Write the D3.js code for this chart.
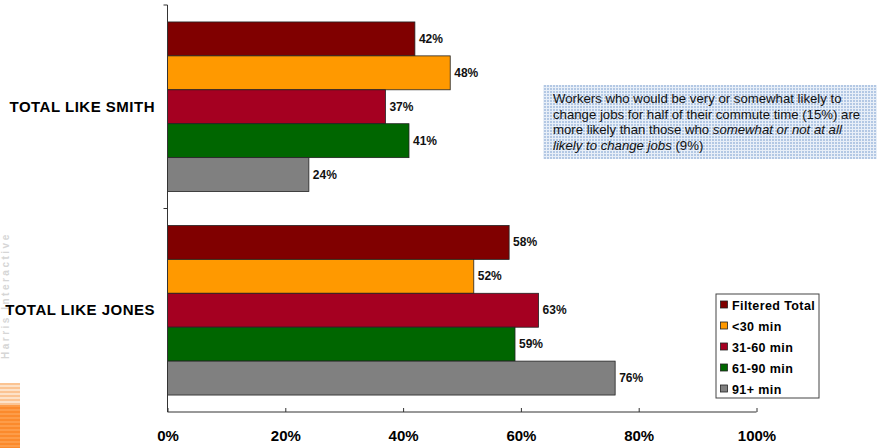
<!DOCTYPE html>
<html>
<head>
<meta charset="utf-8">
<script src="https://cdn.jsdelivr.net/npm/d3@7"></script>
<style>
  html, body { margin: 0; padding: 0; background: #fff; }
  svg { display: block; font-family: Arial, "Liberation Sans", sans-serif; }
</style>
</head>
<body>
<svg id="chart" width="877" height="448"></svg>
<script>
// Survey groups and commute-time segments
const categories = ["TOTAL LIKE SMITH", "TOTAL LIKE JONES"];
const seriesNames = ["Filtered Total", "<30 min", "31-60 min", "61-90 min", "91+ min"];
const seriesColors = ["#800000", "#FF9900", "#A50021", "#006600", "#808080"];
const smithValues = [42, 48, 37, 41, 24];
const jonesValues = [58, 52, 63, 59, 76];
const xTicks = [0, 20, 40, 60, 80, 100];
const noteLines = [
  [{t: "Workers who would be very or somewhat likely to", i: false}],
  [{t: "change jobs for half of their commute time (15%) are", i: false}],
  [{t: "more likely than those who ", i: false}, {t: "somewhat or not at all", i: true}],
  [{t: "likely to change jobs", i: true}, {t: " (9%)", i: false}]
];

const valuesByCategory = [smithValues, jonesValues];
const rows = [];
categories.forEach((c, ci) => {
  seriesNames.forEach((s, si) => rows.push({cat: c, series: s, si, value: valuesByCategory[ci][si]}));
});

const svg = d3.select("#chart");
const plot = {left: 167.5, right: 756.5, top: 5, bottom: 412};

const x = d3.scaleLinear().domain([0, 100]).range([plot.left, plot.right]);
const y = d3.scaleBand().domain(categories).range([plot.top, plot.bottom]).paddingInner(0).paddingOuter(0);
const inner = d3.scaleBand().domain(seriesNames).range([0, y.bandwidth()]).paddingOuter(0.5).paddingInner(0);

// Watermark on the left edge
svg.append("text")
  .attr("transform", "translate(9,359) rotate(-90)")
  .attr("font-size", 10).attr("font-weight", "bold")
  .attr("fill", "#d6d6d6").attr("letter-spacing", 2.5)
  .text("Harris Interactive");
const stripes = svg.append("g");
d3.range(383, 448, 2).forEach(yy => {
  stripes.append("rect").attr("x", 0).attr("y", yy).attr("width", 20).attr("height", 2)
    .attr("fill", yy < 405 ? (yy % 4 === 1 ? "#fde2c8" : "#fbc493") : (yy % 4 === 1 ? "#fd9c48" : "#fb8a2c"));
});

// Bars
svg.append("g").selectAll("rect").data(rows).join("rect")
  .attr("x", x(0))
  .attr("y", d => y(d.cat) + inner(d.series))
  .attr("width", d => x(d.value) - x(0))
  .attr("height", inner.bandwidth())
  .attr("fill", d => seriesColors[d.si])
  .attr("stroke", "#222").attr("stroke-width", 0.8);

// Value labels
svg.append("g").selectAll("text").data(rows).join("text")
  .attr("x", d => x(d.value) + 4)
  .attr("y", d => y(d.cat) + inner(d.series) + inner.bandwidth() / 2 + 4)
  .attr("font-size", 12).attr("font-weight", "bold").attr("fill", "#111")
  .text(d => d.value + "%");

// X axis
const xAxis = svg.append("g").attr("transform", `translate(0,${plot.bottom})`)
  .call(d3.axisBottom(x).tickValues(xTicks).tickSize(-4).tickFormat(d => d + "%").tickPadding(18));
xAxis.select(".domain").attr("stroke", "#333").attr("d", `M${plot.left},0H${plot.right}`);
xAxis.selectAll(".tick line").attr("stroke", "#333");
xAxis.selectAll(".tick text").attr("font-size", 15).attr("font-weight", "bold").attr("fill", "#000")
  .attr("font-family", "Arial, 'Liberation Sans', sans-serif");

// Y axis with boundary ticks between categories
const yAxis = svg.append("g").attr("transform", `translate(${plot.left},0)`);
yAxis.append("line").attr("x1", 0).attr("x2", 0).attr("y1", plot.top).attr("y2", plot.bottom).attr("stroke", "#333");
[plot.top, y(categories[1])].forEach(t => {
  yAxis.append("line").attr("x1", -4).attr("x2", 0).attr("y1", t).attr("y2", t).attr("stroke", "#333");
});
svg.append("g").selectAll("text").data(categories).join("text")
  .attr("x", 155).attr("y", d => y(d) + y.bandwidth() / 2 + 5)
  .attr("text-anchor", "end").attr("font-size", 15).attr("font-weight", "bold").attr("fill", "#000")
  .attr("letter-spacing", 0.5)
  .text(d => d);

// Note box with a woven blue fill
const defs = svg.append("defs");
const pat = defs.append("pattern").attr("id", "weave").attr("patternUnits", "userSpaceOnUse")
  .attr("width", 3).attr("height", 3);
pat.append("rect").attr("width", 3).attr("height", 3).attr("fill", "#b3c8e4");
pat.append("rect").attr("x", 0).attr("y", 0).attr("width", 3).attr("height", 1).attr("fill", "#e8eff8");
pat.append("rect").attr("x", 0).attr("y", 0).attr("width", 1).attr("height", 3).attr("fill", "#e8eff8");
svg.append("rect").attr("x", 543).attr("y", 85).attr("width", 334).attr("height", 74).attr("fill", "url(#weave)");
const note = svg.append("text").attr("font-size", 13.2).attr("fill", "#111");
noteLines.forEach((parts, li) => {
  const line = note.append("tspan").attr("x", 553).attr("y", 103 + li * 15.5);
  parts.forEach((p, pi) => {
    const el = pi === 0 ? line : note.append("tspan");
    el.text(p.t).attr("font-style", p.i ? "italic" : "normal");
  });
});

// Legend
const lg = svg.append("g");
lg.append("rect").attr("x", 716).attr("y", 294).attr("width", 103).attr("height", 104)
  .attr("fill", "#fff").attr("stroke", "#444").attr("stroke-width", 1);
seriesNames.forEach((s, i) => {
  const cy = 305 + i * 21;
  lg.append("rect").attr("x", 720.5).attr("y", cy - 4).attr("width", 7).attr("height", 7)
    .attr("fill", seriesColors[i]).attr("stroke", "#222").attr("stroke-width", 0.8);
  lg.append("text").attr("x", 732).attr("y", cy + 4.5)
    .attr("font-size", 12.5).attr("font-weight", "bold").attr("fill", "#000")
    .attr("letter-spacing", 0.4).text(s);
});
</script>
</body>
</html>
